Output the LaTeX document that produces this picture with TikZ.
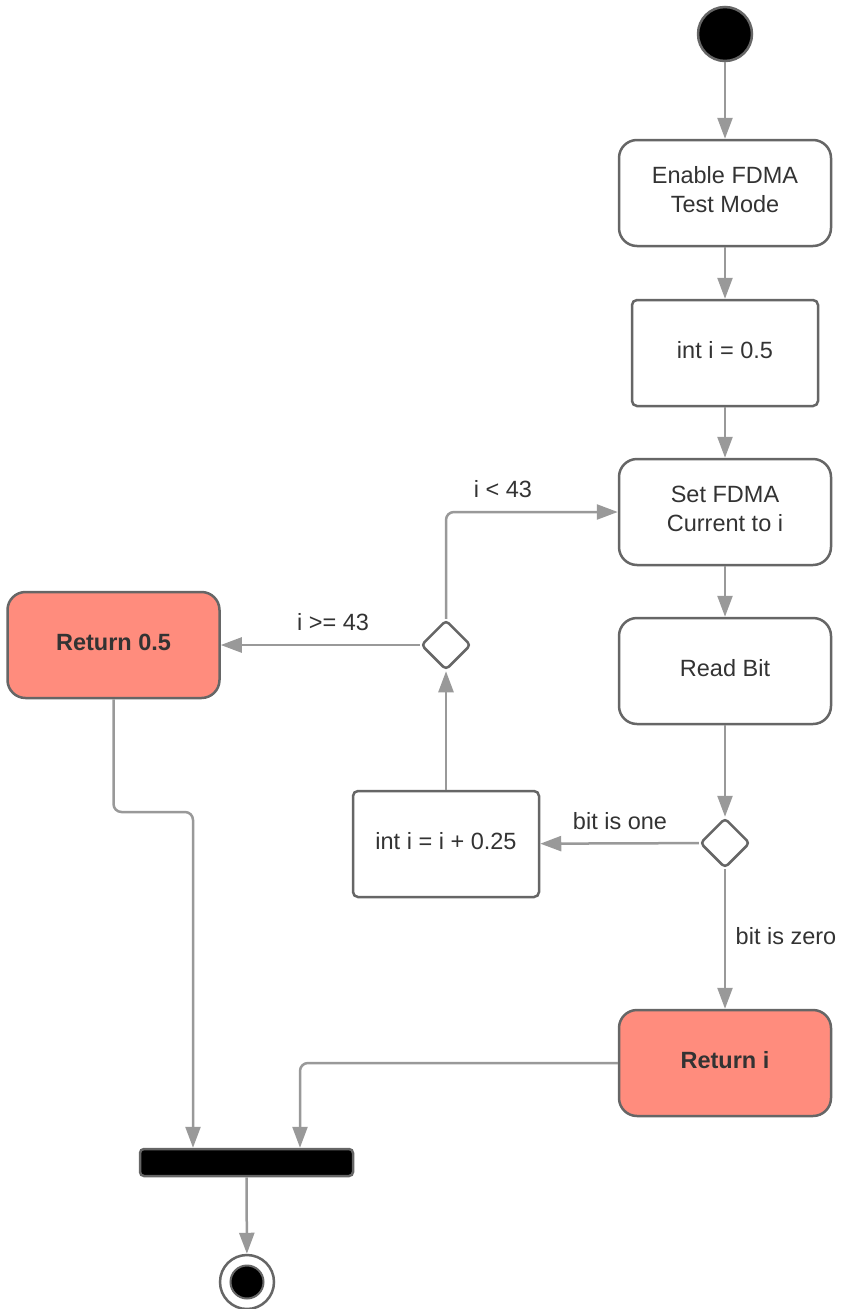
\documentclass[tikz,border=0pt]{standalone}
\usepackage{fontspec}
\setmainfont{Liberation Sans}
\usetikzlibrary{arrows.meta,shapes.geometric}
\definecolor{edge}{HTML}{999999}
\definecolor{outline}{HTML}{666666}
\definecolor{txt}{HTML}{333333}
\definecolor{salmon}{HTML}{FF8C7D}

\begin{document}
\begin{tikzpicture}[x=1pt,y=-1pt,
  every node/.style={font=\fontsize{23.5}{29}\selectfont, text=txt},
  act/.style={draw=outline, line width=2.5pt, rounded corners=18pt,
    minimum width=212pt, minimum height=106pt, fill=white, inner sep=0},
  plain/.style={act, rounded corners=5pt, minimum width=186pt},
  ret/.style={act, fill=salmon},
  caption/.style={inner sep=0, align=center},
  boldcaption/.style={caption, font=\fontsize{23.5}{29}\selectfont\bfseries},
  decision/.style={diamond, draw=outline, line width=2.5pt, rounded corners=4pt,
    minimum width=50pt, minimum height=50pt, inner sep=0, fill=white},
  flow/.style={draw=edge, line width=2.5pt, rounded corners=8pt,
    -{Triangle[length=21pt,width=15pt]}},
  lbl/.style={inner sep=0}
]
\useasboundingbox (0,0) rectangle (843,1309);

% activity nodes
\node[circle, fill=black, draw=outline, line width=2.5pt, minimum size=54pt, inner sep=0] (start) at (725,34) {};
\node[act] (enable) at (725,193) {};
\node[plain] (init) at (725,353) {};
\node[act] (setcur) at (725,512) {};
\node[act] (read) at (725,671) {};
\node[decision] (bit) at (725,843) {};
\node[plain] (incr) at (446,844) {};
\node[decision] (limit) at (446,645) {};
\node[ret] (ret05) at (113.5,645) {};
\node[ret] (reti) at (725,1063) {};
\node[draw=outline, fill=black, line width=2.5pt, rounded corners=4pt,
  minimum width=213pt, minimum height=27pt, inner sep=0] (bar) at (246.5,1162.5) {};
\node[circle, draw=outline, line width=2.5pt, fill=white, minimum size=54pt, inner sep=0] (stop) at (247,1282) {};
\node[circle, fill=black, draw=outline, line width=2pt, minimum size=33pt, inner sep=0] (stopdot) at (stop) {};

% box captions, set slightly above the geometric centre
\node[caption] (tenable) at ([yshift=3pt]enable.center) {Enable FDMA\\Test Mode};
\node[caption] (tinit) at ([yshift=3pt]init.center) {int i = 0.5};
\node[caption] (tsetcur) at ([yshift=3pt]setcur.center) {Set FDMA\\Current to i};
\node[caption] (tread) at ([yshift=3pt]read.center) {Read Bit};
\node[caption] (tincr) at ([yshift=3pt]incr.center) {int i = i + 0.25};
\node[boldcaption] (tret05) at ([yshift=3pt]ret05.center) {Return 0.5};
\node[boldcaption] (treti) at ([yshift=3pt]reti.center) {Return i};

\coordinate (jog) at (0,812);

% control flow
\draw[flow] (start) -- (enable);
\draw[flow] (enable) -- (init);
\draw[flow] (init) -- (setcur);
\draw[flow] (setcur) -- (read);
\draw[flow] (read) -- (bit);
\draw[flow] (bit) -- (incr);
\draw[flow] (bit) -- (reti);
\draw[flow] (incr) -- (limit);
\draw[flow] (limit.north) |- (setcur.west);
\draw[flow] (limit) -- (ret05);
\draw[flow] (ret05.south) -- (ret05.south |- jog) -| ([xshift=-53.5pt]bar.north);
\draw[flow] (reti.west) -| ([xshift=53.5pt]bar.north);
\draw[flow] (bar) -- (stop);

% guard labels
\node[lbl] (lone) at (620,821) {bit is one};
\node[lbl] (lzero) at (786,936) {bit is zero};
\node[lbl] (llt) at (503,489) {i < 43};
\node[lbl] (lge) at (333,622) {i >= 43};
\end{tikzpicture}
\end{document}
